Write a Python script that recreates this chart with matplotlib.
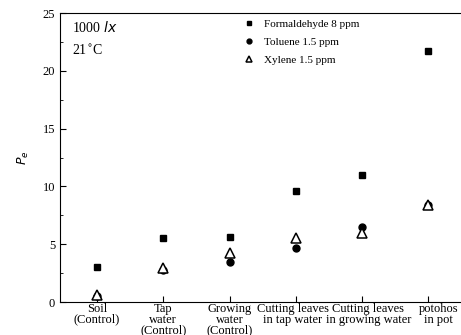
import matplotlib.pyplot as plt
import matplotlib.transforms as mtransforms
from matplotlib.ticker import MultipleLocator

plt.rcParams['font.family'] = ['Liberation Serif', 'DejaVu Serif']

# data
categories = ["Soil\n(Control)", "Tap\nwater\n(Control)", "Growing\nwater\n(Control)",
              "Cutting leaves\nin tap water", "Cutting leaves\nin growing water", "potohos\nin pot"]
formaldehyde = [3.0, 5.5, 5.6, 9.6, 11.0, 21.7]
toluene = [0.5, 2.8, 3.5, 4.7, 6.5, 8.4]
xylene = [0.6, 2.9, 4.2, 5.5, 6.0, 8.4]

x = list(range(len(categories)))

fig = plt.figure(figsize=(4.61, 3.35), dpi=100)
ax = fig.add_axes([0.130, 0.0985, 0.88, 0.8625])

ax.plot(x, formaldehyde, "s", color="black", markersize=5, label="Formaldehyde 8 ppm")
ax.plot(x, toluene, "o", color="black", markersize=5, label="Toluene 1.5 ppm")
ax.plot(x, xylene, "^", markerfacecolor="white", markeredgecolor="black",
        markeredgewidth=1.1, markersize=7, label="Xylene 1.5 ppm")

ax.set_xlim(-0.56, 5.56)
ax.set_ylim(0, 25)
ax.yaxis.set_major_locator(MultipleLocator(5))
ax.yaxis.set_minor_locator(MultipleLocator(2.5))
ax.set_xticks(x)
ax.set_xticklabels(categories, fontsize=5.6, linespacing=0.8)
ax.tick_params(axis="both", direction="in", length=4, labelsize=9)
ax.tick_params(axis="y", which="minor", direction="in", length=2)
ax.tick_params(axis="x", pad=1)

# nudge the wide labels apart a little, as in the original
shifts = {3: -3, 4: 6, 5: 10}
for i, lab in enumerate(ax.get_xticklabels()):
    if i in shifts:
        lab.set_transform(lab.get_transform() +
                          mtransforms.ScaledTranslation(shifts[i] / 100, 0, fig.dpi_scale_trans))

ax.set_ylabel(r"$P_e$", fontsize=9, labelpad=8)

ax.text(0.03, 0.975, "1000 $lx$", transform=ax.transAxes, fontsize=10, va="top")
ax.text(0.03, 0.895, "21$^{\\circ}$C", transform=ax.transAxes, fontsize=10, va="top")

ax.legend(loc="upper left", bbox_to_anchor=(0.42, 1.015), frameon=False, fontsize=8,
          handletextpad=0.6, labelspacing=0.75, markerscale=0.7, handlelength=1.5)

fig.savefig("out.png", dpi=100)
